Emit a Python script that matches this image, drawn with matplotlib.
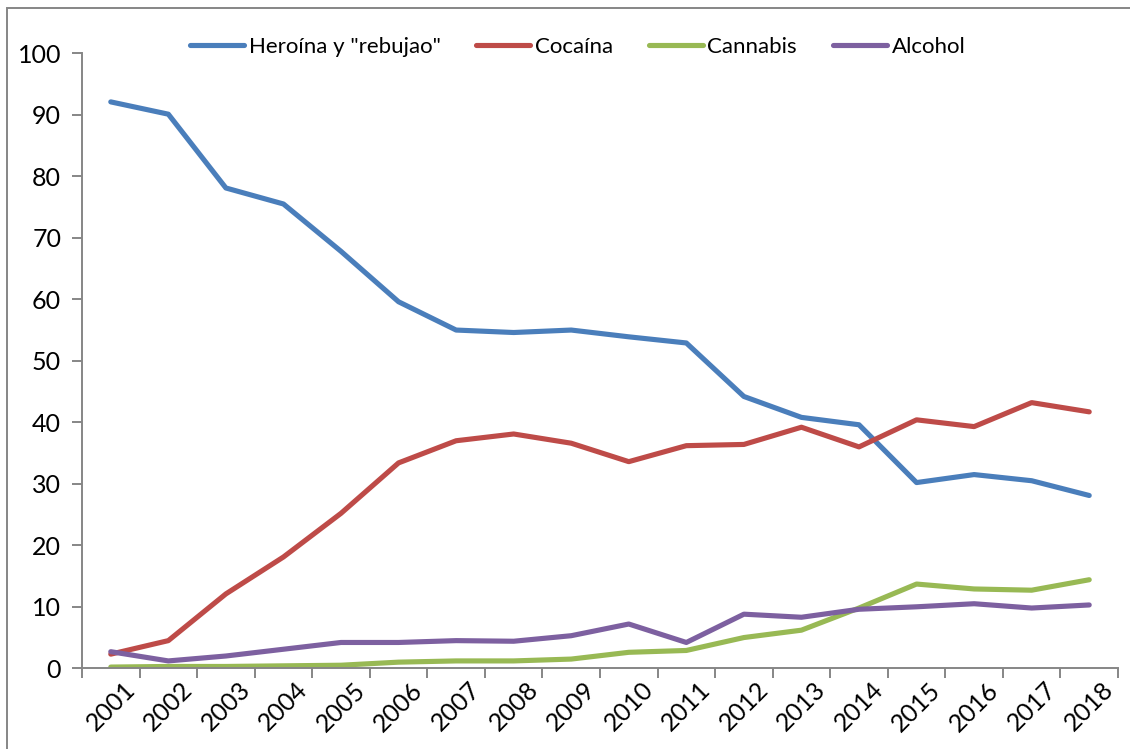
import matplotlib
matplotlib.use('Agg')
import matplotlib.pyplot as plt
from matplotlib.patches import Rectangle
import numpy as np

years = [str(y) for y in range(2001, 2019)]
heroina = [92.1, 90.1, 78.1, 75.5, 67.8, 59.6, 55.0, 54.6, 55.0, 53.9, 52.9, 44.2, 40.8, 39.6, 30.2, 31.5, 30.5, 28.1]
cocaina = [2.3, 4.5, 12.1, 18.1, 25.2, 33.4, 37.0, 38.1, 36.6, 33.6, 36.2, 36.4, 39.2, 36.0, 40.4, 39.3, 43.2, 41.7]
cannabis = [0.2, 0.3, 0.3, 0.4, 0.5, 1.0, 1.2, 1.2, 1.5, 2.6, 2.9, 5.0, 6.2, 9.8, 13.7, 12.9, 12.7, 14.4]
alcohol = [2.7, 1.2, 2.0, 3.1, 4.2, 4.2, 4.5, 4.4, 5.3, 7.2, 4.2, 8.8, 8.3, 9.6, 10.0, 10.5, 9.8, 10.3]
series_names = ['Heroína y "rebujao"', 'Cocaína', 'Cannabis', 'Alcohol']
colors = ['#4A7EBB', '#BE4B48', '#98B954', '#7D60A0']
y_ticks = list(range(0, 101, 10))

plt.rcParams['font.family'] = ['Lato', 'DejaVu Sans']

W, H = 1130, 749
fig = plt.figure(figsize=(W / 100, H / 100), dpi=100)
ax = fig.add_axes([82 / W, 1 - 668.3 / H, (1118 - 82) / W, (668.3 - 53.3) / H])

x = np.arange(len(years))
for vals, name, c in zip([heroina, cocaina, cannabis, alcohol], series_names, colors):
    ax.plot(x, vals, color=c, lw=3.7, label=name,
            solid_capstyle='round', solid_joinstyle='round')

ax.set_xlim(-0.5, len(years) - 0.5)
ax.set_ylim(0, 100)
ax.set_yticks(y_ticks)
ax.set_xticks(x)
ax.set_xticklabels(years, rotation=45, ha='center', va='top')
ax.set_xticks(np.arange(-0.5, len(years)), minor=True)

gray = '#868686'
ax.tick_params(axis='x', which='major', length=0, pad=7, labelsize=18, labelcolor='black')
ax.tick_params(axis='x', which='minor', length=7, width=1.4, color=gray, direction='out')
ax.tick_params(axis='y', length=7, width=1.4, color=gray, labelsize=18, pad=8)
for s in ['top', 'right']:
    ax.spines[s].set_visible(False)
for s in ['left', 'bottom']:
    ax.spines[s].set_color(gray)
    ax.spines[s].set_linewidth(1.4)

fig.legend(loc='center', bbox_to_anchor=(0.511, 1 - 47 / H), ncol=4, frameon=False,
           fontsize=16, handlelength=2.45, handletextpad=0.2, columnspacing=1.6)

# chart area border (left/top visible)
fig.patches.append(Rectangle((7 / W, -0.05), 1.2, 1 - 8 / H + 0.05, transform=fig.transFigure,
                             fill=False, edgecolor=gray, lw=1.4))

fig.savefig('out.png', dpi=100)
